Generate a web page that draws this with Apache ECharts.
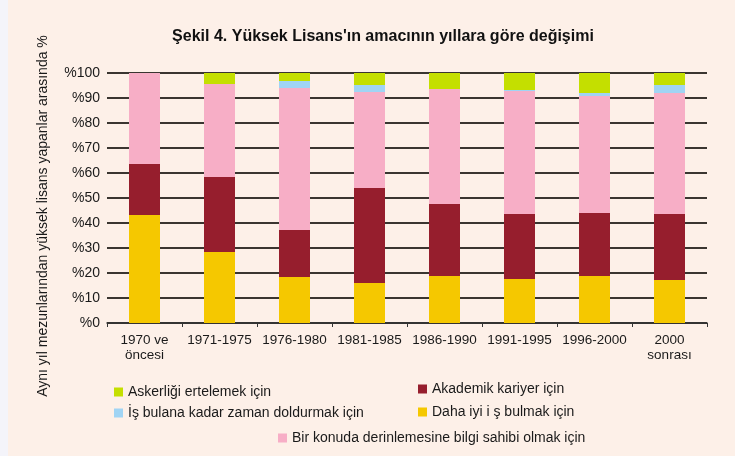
<!DOCTYPE html>
<html>
<head>
<meta charset="utf-8">
<script src="https://cdn.jsdelivr.net/npm/echarts@6/dist/echarts.min.js"></script>
<style>
  html, body { margin: 0; padding: 0; background: #fdf0e8; }
  #chart { width: 735px; height: 456px; }
</style>
</head>
<body>
<div id="chart"></div>
<script>
const categories = ['1970 ve\nöncesi', '1971-1975', '1976-1980', '1981-1985', '1986-1990', '1991-1995', '1996-2000', '2000\nsonrası'];

// stacked from bottom to top
const dahaIyiIs = [43.2, 28.4, 18.4, 16.0, 18.8, 17.6, 18.8, 17.2];
const akademik = [20.4, 30.0, 18.8, 38.0, 28.8, 26.0, 25.2, 26.4];
const birKonuda = [36.4, 37.2, 56.8, 38.4, 46.0, 49.2, 46.8, 48.4];
const isBulana = [0, 0, 2.8, 2.8, 0, 0.4, 1.2, 3.2];
const askerlik = [0, 4.4, 3.2, 4.8, 6.4, 6.8, 8.0, 4.8];

const names = {
  askerlik: 'Askerliği ertelemek için',
  isBulana: 'İş bulana kadar zaman doldurmak için',
  akademik: 'Akademik kariyer için',
  dahaIyiIs: 'Daha iyi i ş bulmak için',
  birKonuda: 'Bir konuda derinlemesine bilgi sahibi olmak için'
};

const font = "'Liberation Sans Narrow', 'Arial Narrow', 'Liberation Sans', sans-serif";
const chart = echarts.init(document.getElementById('chart'));

const legendBase = {
  orient: 'horizontal',
  itemWidth: 9,
  itemHeight: 9,
  itemGap: 10,
  icon: 'rect',
  textStyle: { fontFamily: font, fontSize: 14, color: '#1a1a1a' },
  selectedMode: false
};

function bar(name, data, color) {
  return {
    name: name,
    type: 'bar',
    stack: 'total',
    barWidth: 31,
    data: data,
    itemStyle: { color: color },
    emphasis: { disabled: true }
  };
}

const options = {
  backgroundColor: '#fdf0e8',
  animation: false,
  title: {
    text: 'Şekil 4. Yüksek Lisans\'ın amacının yıllara göre değişimi',
    left: 378,
    textAlign: 'center',
    top: 24,
    textStyle: { fontFamily: font, fontSize: 16, fontWeight: 'bold', color: '#111' }
  },
  graphic: [{
    type: 'rect',
    shape: { x: 0, y: 0, width: 8, height: 456 },
    style: { fill: '#f4f4fa' },
    z: -1
  }],
  legend: [
    Object.assign({}, legendBase, { data: [names.askerlik], left: 109, top: 380 }),
    Object.assign({}, legendBase, { data: [names.isBulana], left: 109, top: 401 }),
    Object.assign({}, legendBase, { data: [names.akademik], left: 413, top: 377 }),
    Object.assign({}, legendBase, { data: [names.dahaIyiIs], left: 413, top: 400 }),
    Object.assign({}, legendBase, { data: [names.birKonuda], left: 273, top: 426 })
  ],
  grid: { left: 107, right: 28, top: 73, bottom: 133 },
  xAxis: {
    type: 'category',
    data: categories,
    axisLine: { lineStyle: { color: '#333', width: 1.5 } },
    axisTick: { show: true, length: 4, lineStyle: { color: '#333' } },
    axisLabel: { fontFamily: font, fontSize: 13.5, color: '#1a1a1a', margin: 10, lineHeight: 15, interval: 0 }
  },
  yAxis: {
    type: 'value',
    min: 0,
    max: 100,
    interval: 10,
    name: 'Aynı yıl mezunlarından yüksek lisans yapanlar arasında %',
    nameLocation: 'middle',
    nameRotate: 90,
    nameGap: 57,
    nameTextStyle: { fontFamily: font, fontSize: 14, color: '#1a1a1a', padding: [0, 36, 0, 0] },
    axisLine: { show: false },
    axisTick: { show: false },
    axisLabel: { fontFamily: font, fontSize: 14, color: '#1a1a1a', margin: 7, formatter: '%{value}' },
    splitLine: { lineStyle: { color: '#3a3530', width: 2 } }
  },
  series: [
    bar(names.dahaIyiIs, dahaIyiIs, '#f5c800'),
    bar(names.akademik, akademik, '#961e2d'),
    bar(names.birKonuda, birKonuda, '#f7aec6'),
    bar(names.isBulana, isBulana, '#a0d4f4'),
    bar(names.askerlik, askerlik, '#c4df00')
  ]
};

chart.setOption(options);
</script>
</body>
</html>
